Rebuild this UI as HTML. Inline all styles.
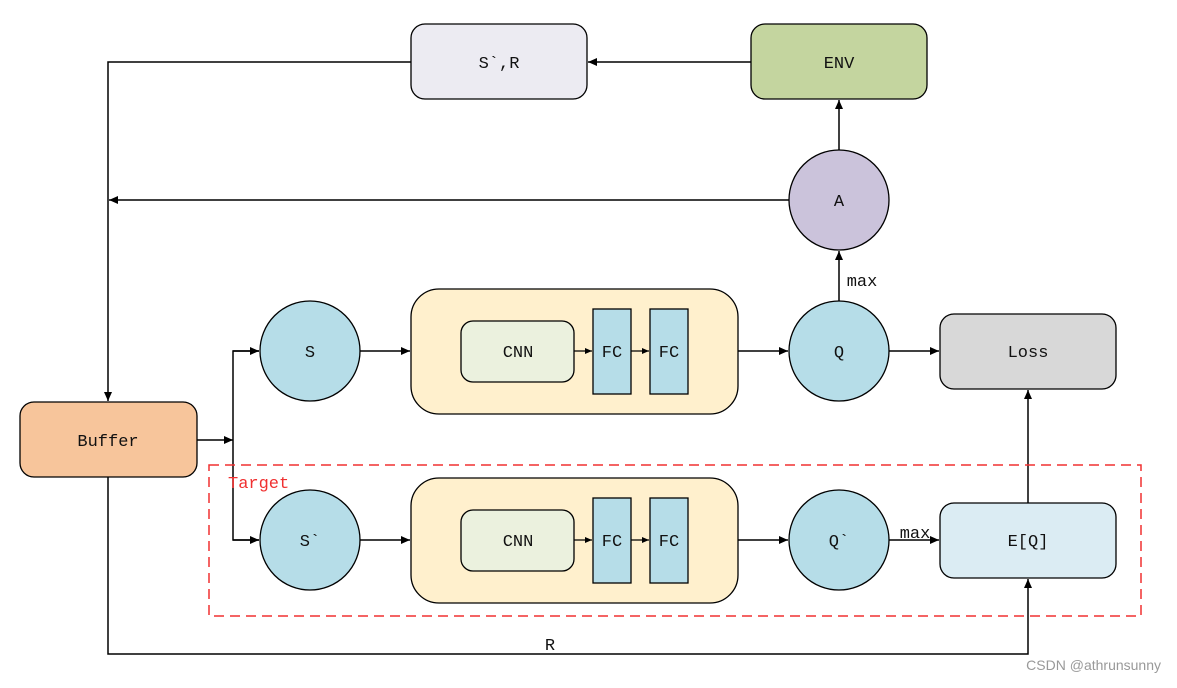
<!DOCTYPE html>
<html><head><meta charset="utf-8"><style>html,body{margin:0;padding:0;background:#fff}</style></head>
<body>
<svg width="1177" height="683" xmlns="http://www.w3.org/2000/svg" font-family="Liberation Mono, Noto Serif CJK SC, monospace" font-size="17">
<defs>
<marker id="a" markerWidth="10" markerHeight="8" refX="9" refY="4" orient="auto" markerUnits="userSpaceOnUse">
<path d="M0,0 L9,4 L0,8 z" fill="#000"/></marker>
<marker id="s" markerWidth="8" markerHeight="6" refX="7" refY="3" orient="auto" markerUnits="userSpaceOnUse">
<path d="M0,0 L7,3 L0,6 z" fill="#000"/></marker>
</defs>
<rect width="1177" height="683" fill="#fff"/>
<g stroke="#000" stroke-width="1.5" fill="none">
<polyline points="411,62 108,62 108,401" marker-end="url(#a)"/>
<line x1="751" y1="62" x2="588" y2="62" marker-end="url(#a)"/>
<line x1="789" y1="200" x2="109" y2="200" marker-end="url(#a)"/>
<line x1="839" y1="150" x2="839" y2="100" marker-end="url(#a)"/>
<line x1="839" y1="301" x2="839" y2="251" marker-end="url(#a)"/>
<line x1="197" y1="440" x2="233" y2="440" marker-end="url(#a)"/>
<polyline points="259,351 233,351 233,540 259,540" />
<line x1="233" y1="351" x2="259" y2="351" marker-end="url(#a)"/>
<line x1="233" y1="540" x2="259" y2="540" marker-end="url(#a)"/>
<line x1="360" y1="351" x2="410" y2="351" marker-end="url(#a)"/>
<line x1="360" y1="540" x2="410" y2="540" marker-end="url(#a)"/>
<line x1="738" y1="351" x2="788" y2="351" marker-end="url(#a)"/>
<line x1="738" y1="540" x2="788" y2="540" marker-end="url(#a)"/>
<line x1="889" y1="351" x2="939" y2="351" marker-end="url(#a)"/>
<line x1="889" y1="540" x2="939" y2="540" marker-end="url(#a)"/>
<line x1="1028" y1="503" x2="1028" y2="390" marker-end="url(#a)"/>
<polyline points="108,477 108,654 1028,654 1028,579" marker-end="url(#a)"/>
</g>
<rect x="209" y="465" width="932" height="151" fill="none" stroke="#f03030" stroke-width="1.5" stroke-dasharray="10,6"/>
<g stroke="#000" stroke-width="1.3">
<rect x="411" y="24" width="176" height="75" rx="14" fill="#ecebf2"/>
<rect x="751" y="24" width="176" height="75" rx="14" fill="#c4d59f"/>
<circle cx="839" cy="200" r="50" fill="#cbc3db"/>
<circle cx="839" cy="351" r="50" fill="#b6dde8"/>
<circle cx="839" cy="540" r="50" fill="#b6dde8"/>
<circle cx="310" cy="351" r="50" fill="#b6dde8"/>
<circle cx="310" cy="540" r="50" fill="#b6dde8"/>
<rect x="940" y="314" width="176" height="75" rx="14" fill="#d8d8d8"/>
<rect x="940" y="503" width="176" height="75" rx="14" fill="#dbecf3"/>
<rect x="20" y="402" width="177" height="75" rx="14" fill="#f7c59b"/>
<rect x="411" y="289" width="327" height="125" rx="28" fill="#fff0cd"/>
<rect x="411" y="478" width="327" height="125" rx="28" fill="#fff0cd"/>
<rect x="461" y="321" width="113" height="61" rx="12" fill="#ebf1de"/>
<rect x="461" y="510" width="113" height="61" rx="12" fill="#ebf1de"/>
<rect x="593" y="309" width="38" height="85" fill="#b6dde8"/>
<rect x="650" y="309" width="38" height="85" fill="#b6dde8"/>
<rect x="593" y="498" width="38" height="85" fill="#b6dde8"/>
<rect x="650" y="498" width="38" height="85" fill="#b6dde8"/>
</g>
<g stroke="#000" stroke-width="1.2">
<line x1="574" y1="351" x2="592" y2="351" marker-end="url(#s)"/>
<line x1="631" y1="351" x2="649" y2="351" marker-end="url(#s)"/>
<line x1="574" y1="540" x2="592" y2="540" marker-end="url(#s)"/>
<line x1="631" y1="540" x2="649" y2="540" marker-end="url(#s)"/>
</g>
<g text-anchor="middle" fill="#111">
<text x="499" y="68">S`,R</text>
<text x="839" y="68">ENV</text>
<text x="839" y="206">A</text>
<text x="839" y="357">Q</text>
<text x="839" y="546">Q`</text>
<text x="310" y="357">S</text>
<text x="310" y="546">S`</text>
<text x="1028" y="357">Loss</text>
<text x="1028" y="546">E[Q]</text>
<text x="108" y="446">Buffer</text>
<text x="518" y="357">CNN</text>
<text x="518" y="546">CNN</text>
<text x="612" y="357">FC</text>
<text x="669" y="357">FC</text>
<text x="612" y="546">FC</text>
<text x="669" y="546">FC</text>
<text x="862" y="286">max</text>
<text x="915" y="538">max</text>
<text x="550" y="650">R</text>
</g>
<text x="228" y="488" fill="#f03030">Target</text>
<text x="1161" y="670" text-anchor="end" font-family="Liberation Sans, sans-serif" font-size="14" fill="#999">CSDN @athrunsunny</text>
</svg>
</body></html>
